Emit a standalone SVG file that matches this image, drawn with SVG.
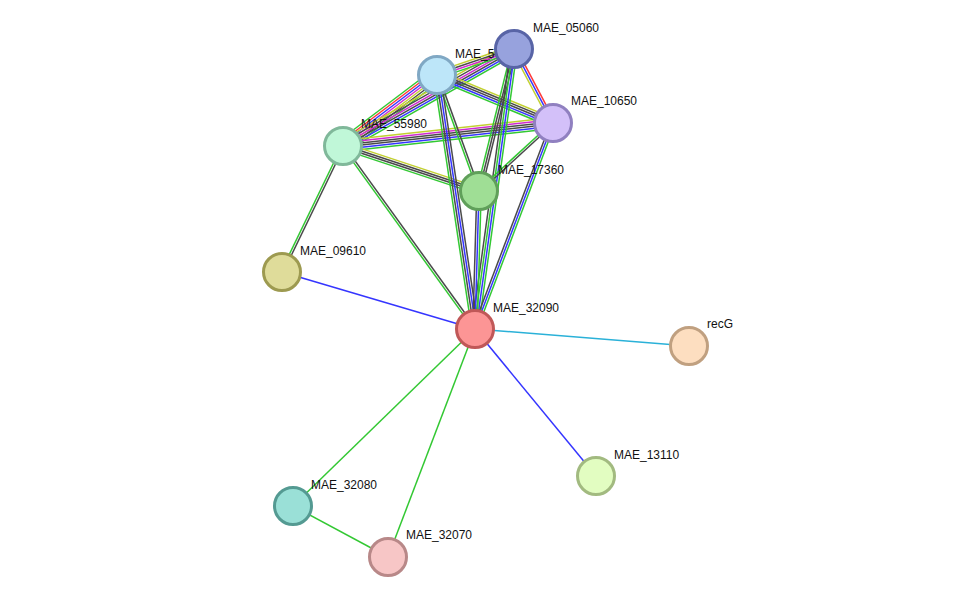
<svg xmlns="http://www.w3.org/2000/svg" width="975" height="602" viewBox="0 0 975 602">
<style>
line{stroke-width:1.5;fill:none}
.g{stroke:#33c833}.b{stroke:#3535ff}.k{stroke:#4a4a4a}.m{stroke:#d02ad0}.y{stroke:#c2d030}.r{stroke:#ff3838}.c{stroke:#2ab1d8}
circle{stroke-width:3}
text{font-family:"Liberation Sans",Arial,sans-serif;font-size:12px;fill:#111}
</style>
<rect width="975" height="602" fill="#fff"/>
<g id="connectors">
<g transform="translate(343,146) rotate(-37.07)"><line class="g" x1="0" y1="-6.6" x2="117.8" y2="-6.6"/><line class="r" x1="0" y1="-4.4" x2="117.8" y2="-4.4"/><line class="b" x1="0" y1="-2.2" x2="117.8" y2="-2.2"/><line class="m" x1="0" y1="0" x2="117.8" y2="0"/><line class="y" x1="0" y1="2.2" x2="117.8" y2="2.2"/><line class="k" x1="0" y1="4.4" x2="117.8" y2="4.4"/><line class="g" x1="0" y1="6.6" x2="117.8" y2="6.6"/></g>
<g transform="translate(343,146) rotate(-29.56)"><line class="y" x1="0" y1="-5.5" x2="196.6" y2="-5.5"/><line class="k" x1="0" y1="-3.3" x2="196.6" y2="-3.3"/><line class="m" x1="0" y1="-1.1" x2="196.6" y2="-1.1"/><line class="k" x1="0" y1="1.1" x2="196.6" y2="1.1"/><line class="b" x1="0" y1="3.3" x2="196.6" y2="3.3"/><line class="g" x1="0" y1="5.5" x2="196.6" y2="5.5"/></g>
<g transform="translate(343,146) rotate(-6.25)"><line class="y" x1="0" y1="-5.5" x2="211.3" y2="-5.5"/><line class="m" x1="0" y1="-3.3" x2="211.3" y2="-3.3"/><line class="k" x1="0" y1="-1.1" x2="211.3" y2="-1.1"/><line class="k" x1="0" y1="1.1" x2="211.3" y2="1.1"/><line class="b" x1="0" y1="3.3" x2="211.3" y2="3.3"/><line class="g" x1="0" y1="5.5" x2="211.3" y2="5.5"/></g>
<g transform="translate(343,146) rotate(18.31)"><line class="y" x1="0" y1="-3.3" x2="143.3" y2="-3.3"/><line class="k" x1="0" y1="-1.1" x2="143.3" y2="-1.1"/><line class="k" x1="0" y1="1.1" x2="143.3" y2="1.1"/><line class="g" x1="0" y1="3.3" x2="143.3" y2="3.3"/></g>
<g transform="translate(343,146) rotate(115.83)"><line class="k" x1="0" y1="-1.1" x2="140" y2="-1.1"/><line class="g" x1="0" y1="1.1" x2="140" y2="1.1"/></g>
<g transform="translate(343,146) rotate(54.19)"><line class="k" x1="0" y1="-1.1" x2="225.6" y2="-1.1"/><line class="g" x1="0" y1="1.1" x2="225.6" y2="1.1"/></g>
<g transform="translate(437,75) rotate(-18.66)"><line class="y" x1="0" y1="-3.3" x2="81.3" y2="-3.3"/><line class="k" x1="0" y1="-1.1" x2="81.3" y2="-1.1"/><line class="m" x1="0" y1="1.1" x2="81.3" y2="1.1"/><line class="g" x1="0" y1="3.3" x2="81.3" y2="3.3"/></g>
<g transform="translate(437,75) rotate(22.48)"><line class="y" x1="0" y1="-4.4" x2="125.5" y2="-4.4"/><line class="k" x1="0" y1="-2.2" x2="125.5" y2="-2.2"/><line class="k" x1="0" y1="0" x2="125.5" y2="0"/><line class="b" x1="0" y1="2.2" x2="125.5" y2="2.2"/><line class="g" x1="0" y1="4.4" x2="125.5" y2="4.4"/></g>
<g transform="translate(437,75) rotate(70.1)"><line class="k" x1="0" y1="-1.1" x2="123.4" y2="-1.1"/><line class="g" x1="0" y1="1.1" x2="123.4" y2="1.1"/></g>
<g transform="translate(437,75) rotate(81.49)"><line class="k" x1="0" y1="-3.3" x2="256.8" y2="-3.3"/><line class="b" x1="0" y1="-1.1" x2="256.8" y2="-1.1"/><line class="k" x1="0" y1="1.1" x2="256.8" y2="1.1"/><line class="g" x1="0" y1="3.3" x2="256.8" y2="3.3"/></g>
<g transform="translate(514,49) rotate(62.21)"><line class="r" x1="0" y1="-2.2" x2="83.6" y2="-2.2"/><line class="b" x1="0" y1="0" x2="83.6" y2="0"/><line class="y" x1="0" y1="2.2" x2="83.6" y2="2.2"/></g>
<g transform="translate(514,49) rotate(103.85)"><line class="k" x1="0" y1="-2.2" x2="146.2" y2="-2.2"/><line class="k" x1="0" y1="0" x2="146.2" y2="0"/><line class="g" x1="0" y1="2.2" x2="146.2" y2="2.2"/></g>
<g transform="translate(514,49) rotate(97.93)"><line class="g" x1="0" y1="-3.3" x2="282.7" y2="-3.3"/><line class="b" x1="0" y1="-1.1" x2="282.7" y2="-1.1"/><line class="g" x1="0" y1="1.1" x2="282.7" y2="1.1"/><line class="k" x1="0" y1="3.3" x2="282.7" y2="3.3"/></g>
<g transform="translate(553,123) rotate(137.42)"><line class="k" x1="0" y1="-1.1" x2="100.5" y2="-1.1"/><line class="g" x1="0" y1="1.1" x2="100.5" y2="1.1"/></g>
<g transform="translate(553,123) rotate(110.74)"><line class="g" x1="0" y1="-2.2" x2="220.3" y2="-2.2"/><line class="b" x1="0" y1="0" x2="220.3" y2="0"/><line class="k" x1="0" y1="2.2" x2="220.3" y2="2.2"/></g>
<g transform="translate(479,191) rotate(91.66)"><line class="g" x1="0" y1="-2.2" x2="138.1" y2="-2.2"/><line class="b" x1="0" y1="0" x2="138.1" y2="0"/><line class="k" x1="0" y1="2.2" x2="138.1" y2="2.2"/></g>
<line class="b" x1="282" y1="272" x2="475" y2="329"/>
<line class="c" x1="475" y1="329" x2="689" y2="346"/>
<line class="b" x1="475" y1="329" x2="596" y2="476"/>
<line class="g" x1="475" y1="329" x2="293" y2="506"/>
<line class="g" x1="475" y1="329" x2="388" y2="557"/>
<line class="g" x1="293" y1="506" x2="388" y2="557"/>
</g>
<g id="node-MAE_5"><circle cx="437" cy="75" r="18.5" fill="#bde6f9" stroke="#80a8c4"/><text x="455" y="58">MAE_5</text></g>
<g id="node-MAE_05060"><circle cx="514" cy="49" r="18.5" fill="#97a2dd" stroke="#5864a6"/><text x="533" y="32">MAE_05060</text></g>
<g id="node-MAE_10650"><circle cx="553" cy="123" r="18.5" fill="#d3c0f9" stroke="#9080c0"/><text x="571" y="105">MAE_10650</text></g>
<g id="node-MAE_55980"><circle cx="343" cy="146" r="18.5" fill="#c0f7d8" stroke="#80b89a"/><text x="361" y="128">MAE_55980</text></g>
<g id="node-MAE_17360"><circle cx="479" cy="191" r="18.5" fill="#9fde95" stroke="#60a05a"/><text x="498" y="174">MAE_17360</text></g>
<g id="node-MAE_09610"><circle cx="282" cy="272" r="18.5" fill="#dfdc9a" stroke="#9d9a50"/><text x="300" y="255">MAE_09610</text></g>
<g id="node-MAE_32090"><circle cx="475" cy="329" r="18.5" fill="#fc9595" stroke="#c05858"/><text x="493" y="312">MAE_32090</text></g>
<g id="node-recG"><circle cx="689" cy="346" r="18.5" fill="#fddec0" stroke="#c0a080"/><text x="707" y="328">recG</text></g>
<g id="node-MAE_13110"><circle cx="596" cy="476" r="18.5" fill="#e2fdc1" stroke="#a2ba80"/><text x="614" y="459">MAE_13110</text></g>
<g id="node-MAE_32080"><circle cx="293" cy="506" r="18.5" fill="#9ae0d7" stroke="#549a92"/><text x="311" y="489">MAE_32080</text></g>
<g id="node-MAE_32070"><circle cx="388" cy="557" r="18.5" fill="#f7c6c6" stroke="#b88888"/><text x="406" y="539">MAE_32070</text></g>
</svg>
